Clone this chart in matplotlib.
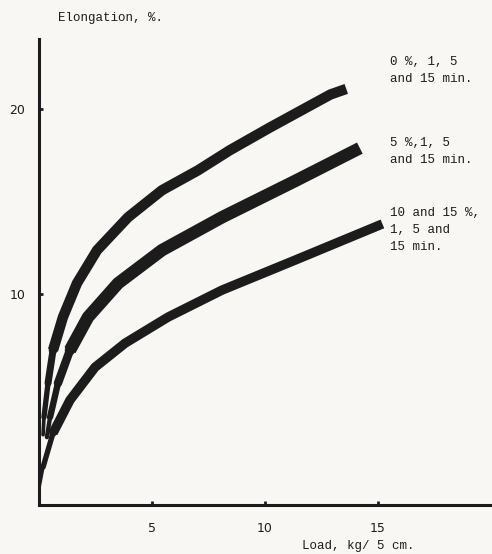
'''
Elongation against load for three groups of samples
'''
import numpy as np
import matplotlib.pyplot as plt
from matplotlib.collections import LineCollection

# load (kg / 5 cm) and elongation (%) along the centre of each band
load_0 = [0.18, 0.22, 0.40, 0.62, 1.06, 1.68, 2.57, 3.94, 5.44, 7.04, 8.44,
          10.2, 12.9, 13.6]
elong_0 = [2.4, 3.35, 5.19, 6.97, 8.76, 10.59, 12.38, 14.16, 15.62, 16.70,
           17.78, 19.0, 20.8, 21.1]

load_5 = [0.35, 0.49, 0.84, 1.37, 2.17, 3.50, 5.44, 8.10, 11.3, 14.2]
elong_5 = [2.27, 3.35, 5.19, 6.97, 8.76, 10.59, 12.38, 14.16, 16.1, 17.9]

load_10 = [0.0, 0.18, 0.62, 1.37, 2.48, 3.81, 5.71, 8.10, 11.33, 15.2]
elong_10 = [-0.5, 0.65, 2.49, 4.27, 6.05, 7.35, 8.76, 10.22, 11.84, 13.8]

labels = ['0 %, 1, 5\nand 15 min.',
          '5 %,1, 5\nand 15 min.',
          '10 and 15 %,\n1, 5 and\n15 min.']
label_y = [22.9, 18.5, 14.7]

x_ticks = [5, 10, 15]
y_ticks = [10, 20]

ink = '#1c1c1c'
paper = '#f8f7f3'
font = 'Liberation Mono'


def draw_band(ax, x, y, width, taper):
    # narrow where the separate curves begin near the origin
    pts = np.column_stack([x, y])[:taper + 1]
    segs = np.stack([pts[:-1], pts[1:]], axis=1)
    widths = [width * (0.35 + 0.65 * i / taper) for i in range(len(segs))]
    ax.add_collection(LineCollection(segs, linewidths=widths, colors=ink,
                                     capstyle='round'))
    # full width from there on
    ax.plot(x[taper - 1:], y[taper - 1:], color=ink, lw=width,
            solid_capstyle='butt', solid_joinstyle='round')


fig = plt.figure(figsize=(4.92, 5.54), dpi=100, facecolor=paper)
ax = fig.add_axes([39 / 492, 49 / 554, 453 / 492, 466 / 554], facecolor=paper)

draw_band(ax, load_0, elong_0, 7.5, 4)
draw_band(ax, load_5, elong_5, 9.0, 4)
draw_band(ax, load_10, elong_10, 6.8, 3)

for text, y in zip(labels, label_y):
    ax.text(15.55, y, text, fontsize=9, family=font, va='top', ha='left',
            linespacing=1.55, color=ink)

ax.set_xlim(0, 20.05)
ax.set_ylim(-1.4, 23.8)
ax.set_xticks(x_ticks)
ax.set_yticks(y_ticks)
ax.set_xticklabels([str(t) for t in x_ticks], family='DejaVu Sans', fontsize=9,
                   color=ink)
ax.set_yticklabels([str(t) for t in y_ticks], family='DejaVu Sans', fontsize=9,
                   color=ink)
ax.tick_params(axis='x', direction='in', length=3, width=2, pad=12, colors=ink)
ax.tick_params(axis='y', direction='in', length=3, width=2, pad=10, colors=ink)

for side in ['top', 'right']:
    ax.spines[side].set_visible(False)
for side in ['left', 'bottom']:
    ax.spines[side].set_linewidth(2.2)
    ax.spines[side].set_color(ink)

fig.text(58 / 492, 1 - 18 / 554, 'Elongation, %.', family=font, fontsize=9,
         va='center', ha='left', color=ink)
fig.text(302 / 492, 1 - 546 / 554, 'Load, kg/ 5 cm.', family=font, fontsize=9,
         va='center', ha='left', color=ink)

fig.savefig('out.png', dpi=100, facecolor=paper)
